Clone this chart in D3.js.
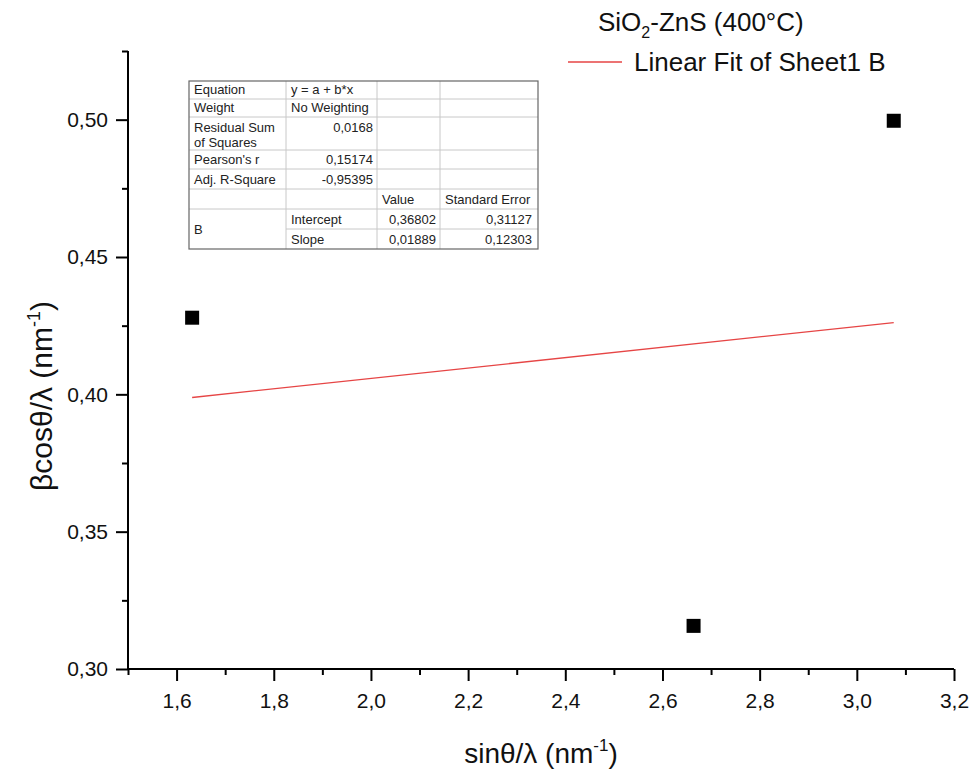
<!DOCTYPE html>
<html>
<head>
<meta charset="utf-8">
<script src="https://cdn.jsdelivr.net/npm/d3@7"></script>
<style>
  html, body { margin: 0; padding: 0; background: #fff; }
  svg { display: block; font-family: "Liberation Sans", Arial, sans-serif; }
</style>
</head>
<body>
<svg id="chart" width="976" height="769"></svg>
<script>
// Measured points (sinθ/λ, βcosθ/λ)
const xValues = [1.632, 2.664, 3.076];
const yValues = [0.4279, 0.3157, 0.4996];

// Linear fit parameters
const fitIntercept = 0.36802;
const fitSlope = 0.01889;

// Axis ticks
const xMajorTicks = [1.6, 1.8, 2.0, 2.2, 2.4, 2.6, 2.8, 3.0, 3.2];
const xMinorTicks = [1.5, 1.7, 1.9, 2.1, 2.3, 2.5, 2.7, 2.9, 3.1];
const yMajorTicks = [0.30, 0.35, 0.40, 0.45, 0.50];
const yMinorTicks = [0.325, 0.375, 0.425, 0.475, 0.525];

// Fit statistics table
const tableLabels = ["Equation", "Weight", "Residual Sum\nof Squares", "Pearson's r", "Adj. R-Square"];
const tableValues = ["y = a + b*x", "No Weighting", "0,0168", "0,15174", "-0,95395"];
const paramHeaders = ["Value", "Standard Error"];
const paramNames = ["Intercept", "Slope"];
const paramValues = ["0,36802", "0,01889"];
const paramErrors = ["0,31127", "0,12303"];

const locale = d3.formatLocale({decimal: ",", thousands: ".", grouping: [3], currency: ["", ""]});
const fmtX = locale.format(".1f");
const fmtY = locale.format(".2f");

const svg = d3.select("#chart");
const plotLeft = 128, plotRight = 954, plotTop = 51, plotBottom = 669;

const x = d3.scaleLinear().domain([1.5, 3.2]).range([plotLeft, plotRight]);
const y = d3.scaleLinear().domain([0.30, 0.525]).range([plotBottom, plotTop]);

const tickFont = 21;

// X axis: minor ticks, then major ticks with labels
const gxMinor = svg.append("g").attr("transform", `translate(0,${plotBottom})`)
  .call(d3.axisBottom(x).tickValues(xMinorTicks).tickSize(6).tickFormat(""));
const gx = svg.append("g").attr("transform", `translate(0,${plotBottom})`)
  .call(d3.axisBottom(x).tickValues(xMajorTicks).tickSize(12).tickPadding(12).tickFormat(fmtX));
gx.select(".domain").attr("d", `M${plotLeft},0H${plotRight}`);

const gyMinor = svg.append("g").attr("transform", `translate(${plotLeft},0)`)
  .call(d3.axisLeft(y).tickValues(yMinorTicks).tickSize(6).tickFormat(""));
const gy = svg.append("g").attr("transform", `translate(${plotLeft},0)`)
  .call(d3.axisLeft(y).tickValues(yMajorTicks).tickSize(12).tickPadding(8).tickFormat(fmtY));
gy.select(".domain").attr("d", `M0,${plotTop}V${plotBottom}`);

[gxMinor, gyMinor].forEach(g => g.select(".domain").remove());
[gx, gy, gxMinor, gyMinor].forEach(g => {
  g.selectAll(".domain").attr("stroke", "#000").attr("stroke-width", 2);
  g.selectAll(".tick line").attr("stroke", "#000").attr("stroke-width", 2);
  g.selectAll(".tick text").attr("fill", "#111").attr("font-size", tickFont)
    .attr("font-family", "'Liberation Sans', Arial, sans-serif");
});

// Axis titles
const xTitle = svg.append("text").attr("x", (plotLeft + plotRight) / 2).attr("y", 763)
  .attr("text-anchor", "middle").attr("font-size", 28).attr("fill", "#111");
xTitle.append("tspan").text("sinθ/λ (nm");
xTitle.append("tspan").attr("font-size", 17).attr("dy", -12).text("-1");
xTitle.append("tspan").attr("dy", 12).text(")");

const yTitle = svg.append("text").attr("transform", "translate(52,396) rotate(-90)")
  .attr("text-anchor", "middle").attr("font-size", 30).attr("fill", "#111");
yTitle.append("tspan").text("βcosθ/λ (nm");
yTitle.append("tspan").attr("font-size", 18).attr("dy", -12).text("-1");
yTitle.append("tspan").attr("dy", 12).text(")");

// Fit line across the data range
const xExtent = d3.extent(xValues);
const fitData = xExtent.map(v => ({x: v, y: fitIntercept + fitSlope * v}));
svg.append("path").datum(fitData)
  .attr("fill", "none").attr("stroke", "#e64545").attr("stroke-width", 1.3)
  .attr("d", d3.line().x(d => x(d.x)).y(d => y(d.y)));

// Data markers
const marker = 14;
svg.append("g").selectAll("rect").data(xValues.map((v, i) => ({x: v, y: yValues[i]})))
  .join("rect")
  .attr("x", d => x(d.x) - marker / 2).attr("y", d => y(d.y) - marker / 2)
  .attr("width", marker).attr("height", marker).attr("fill", "#000");

// Legend
const legendTitle = svg.append("text").attr("x", 598).attr("y", 31).attr("font-size", 26).attr("fill", "#111");
legendTitle.append("tspan").text("SiO");
legendTitle.append("tspan").attr("font-size", 16).attr("dy", 7).text("2");
legendTitle.append("tspan").attr("dy", -7).text("-ZnS (400°C)");

svg.append("line").attr("x1", 568).attr("x2", 622).attr("y1", 62).attr("y2", 62)
  .attr("stroke", "#e64545").attr("stroke-width", 1.3);
svg.append("text").attr("x", 634).attr("y", 71).attr("font-size", 26).attr("fill", "#111")
  .text("Linear Fit of Sheet1 B");

// Statistics table
const colX = [189, 286, 377, 440, 538];
const rowY = [81, 99, 117, 150, 169, 189, 209, 229, 249];
const table = svg.append("g").attr("font-size", 13).attr("fill", "#222");
table.append("rect").attr("x", colX[0]).attr("y", rowY[0])
  .attr("width", colX[4] - colX[0]).attr("height", rowY[8] - rowY[0])
  .attr("fill", "#fff");

const grid = table.append("g").attr("stroke", "#c8c8c8").attr("stroke-width", 1);
// horizontal lines (the merged "B" cell has no line between its two rows in column 0)
rowY.slice(1, 8).forEach((ry, i) => {
  const x0 = (i === 6) ? colX[1] : colX[0];
  grid.append("line").attr("x1", x0).attr("x2", colX[4]).attr("y1", ry).attr("y2", ry);
});
colX.slice(1, 4).forEach(cx => {
  grid.append("line").attr("x1", cx).attr("x2", cx).attr("y1", rowY[0]).attr("y2", rowY[8]);
});
table.append("rect").attr("x", colX[0]).attr("y", rowY[0])
  .attr("width", colX[4] - colX[0]).attr("height", rowY[8] - rowY[0])
  .attr("fill", "none").attr("stroke", "#666").attr("stroke-width", 1.2);

const pad = 5;
tableLabels.forEach((lab, i) => {
  const lines = lab.split("\n");
  const base = lines.length > 1 ? rowY[i] + 14.7 : rowY[i + 1] - 5;
  lines.forEach((ln, k) => {
    table.append("text").attr("x", colX[0] + pad).attr("y", base + k * 15).text(ln);
  });
  const isText = i < 2;
  table.append("text")
    .attr("x", isText ? colX[1] + pad : colX[2] - 4)
    .attr("y", base)
    .attr("text-anchor", isText ? "start" : "end")
    .text(tableValues[i]);
});
// parameter header row
table.append("text").attr("x", colX[2] + pad).attr("y", rowY[6] - 5).text(paramHeaders[0]);
table.append("text").attr("x", colX[3] + pad).attr("y", rowY[6] - 5).text(paramHeaders[1]);
// parameter rows, with "B" centred in its merged cell
table.append("text").attr("x", colX[0] + pad).attr("y", (rowY[6] + rowY[8]) / 2 + 5).text("B");
paramNames.forEach((nm, i) => {
  const base = rowY[7 + i] - 5;
  table.append("text").attr("x", colX[1] + pad).attr("y", base).text(nm);
  table.append("text").attr("x", colX[3] - 4).attr("y", base).attr("text-anchor", "end").text(paramValues[i]);
  table.append("text").attr("x", colX[4] - 6).attr("y", base).attr("text-anchor", "end").text(paramErrors[i]);
});
</script>
</body>
</html>
